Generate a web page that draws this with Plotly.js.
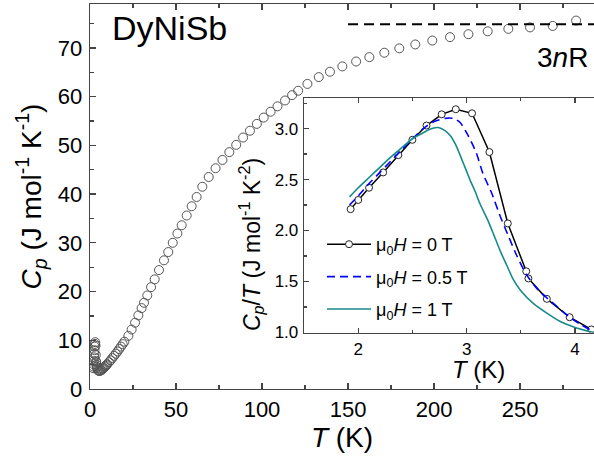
<!DOCTYPE html>
<html>
<head>
<meta charset="utf-8">
<script src="https://cdn.plot.ly/plotly-3.0.1.min.js"></script>
<style>html,body{margin:0;padding:0;background:#fff;}#chart{width:594px;height:459px;}</style>
</head>
<body>
<div id="chart"></div>
<script>
// ---- Inset data: Cp/T vs T (low temperature) ----
var insetT0 = [1.93, 2.00, 2.10, 2.23, 2.37, 2.50, 2.63, 2.77, 2.90, 3.05, 3.21, 3.38, 3.55, 3.57, 3.74, 3.95, 4.15];
var insetCpT0 = [2.21, 2.30, 2.42, 2.57, 2.74, 2.89, 3.03, 3.14, 3.19, 3.15, 2.77, 2.07, 1.60, 1.53, 1.33, 1.15, 1.03];

var insetT05 = [1.92, 2.00, 2.10, 2.20, 2.30, 2.40, 2.50, 2.60, 2.70, 2.80, 2.88, 2.94, 3.01, 3.09, 3.15, 3.23, 3.31, 3.38, 3.46, 3.55, 3.65, 3.74, 3.85, 3.95, 4.05, 4.15];
var insetCpT05 = [2.25, 2.34, 2.46, 2.57, 2.68, 2.79, 2.90, 3.00, 3.07, 3.10, 3.10, 3.06, 2.94, 2.76, 2.56, 2.37, 2.14, 1.96, 1.76, 1.57, 1.43, 1.34, 1.24, 1.15, 1.08, 1.02];

var insetT1 = [1.92, 2.00, 2.10, 2.20, 2.30, 2.40, 2.50, 2.60, 2.68, 2.74, 2.80, 2.85, 2.90, 2.94, 3.00, 3.03, 3.08, 3.12, 3.20, 3.25, 3.31, 3.37, 3.43, 3.50, 3.62, 3.74, 3.86, 4.00, 4.17];
var insetCpT1 = [2.33, 2.42, 2.52, 2.62, 2.72, 2.81, 2.90, 2.96, 3.00, 3.01, 2.98, 2.93, 2.84, 2.74, 2.58, 2.50, 2.38, 2.27, 2.09, 1.96, 1.80, 1.66, 1.52, 1.41, 1.28, 1.19, 1.11, 1.05, 1.00];

// ---- Main data: Cp vs T above the inset range ----
var mainT = [4.5, 5, 5.5, 6, 6.5, 7, 7.5, 8, 8.5, 9, 9.5, 10, 11, 12, 13, 14, 15, 16, 17, 18, 19, 20,
  22.3, 24.2, 26.2, 28.1, 30, 31.4, 33.3, 35.5, 37.6, 40.1, 43, 45.5, 48.1, 50.8, 53.3, 56.2, 59.1, 62, 65.3,
  69, 73, 77, 81, 85, 89, 93, 97, 101, 105, 109, 113.4, 117.5, 121, 126.4, 133, 139.5, 146.7, 154.7, 162.4,
  171.1, 179.8, 189.1, 199, 209.3, 220, 231.2, 243.2, 255.8, 269, 282.6];
var mainCp = [3.9, 3.75, 3.7, 3.75, 3.85, 4.0, 4.15, 4.3, 4.5, 4.7, 4.9, 5.1, 5.5, 5.9, 6.35, 6.8, 7.25, 7.7, 8.2, 8.7, 9.2, 9.7,
  10.9, 12.2, 13.6, 15.1, 16.6, 17.7, 19.2, 20.9, 22.5, 24.4, 26.4, 28.1, 30.0, 31.9, 33.6, 35.6, 37.5, 39.4, 41.5,
  43.5, 45.3, 47.0, 48.6, 50.1, 51.6, 53.0, 54.4, 55.7, 56.9, 58.0, 59.2, 60.3, 61.2, 62.6, 64.0, 65.1, 66.2, 67.2, 68.1,
  69.0, 69.9, 70.7, 71.5, 72.2, 72.8, 73.4, 73.9, 74.2, 74.5, 75.6];

// Dulong-Petit limit 3nR (n = 3 atoms)
var limitT = [150, 293];
var limit3nR = [3 * 3 * 8.314, 3 * 3 * 8.314];

var legendNames = ['\u03bc<sub>0</sub><i>H</i> = 0 T', '\u03bc<sub>0</sub><i>H</i> = 0.5 T', '\u03bc<sub>0</sub><i>H</i> = 1 T'];

// full main series: low-T part derived from inset 0 T data (Cp = T * Cp/T)
var allT = insetT0.concat(mainT);
var allCp = insetT0.map(function (t, i) { return t * insetCpT0[i]; }).concat(mainCp);

var FONT = 'Liberation Sans, Arial, Helvetica, sans-serif';
var AX = '#444';

var traces = [
  {x: allT, y: allCp, type: 'scatter', mode: 'markers', xaxis: 'x', yaxis: 'y', showlegend: false,
   marker: {symbol: 'circle-open', size: 9, color: '#555', line: {width: 1, color: '#555'}}},
  {x: limitT, y: limit3nR, type: 'scatter', mode: 'lines', xaxis: 'x', yaxis: 'y', showlegend: false,
   line: {color: '#000', width: 2, dash: '10px,6px'}},
  {x: insetT0, y: insetCpT0, type: 'scatter', mode: 'lines+markers', xaxis: 'x2', yaxis: 'y2', name: legendNames[0], legendgroup: 'a',
   line: {color: '#000', width: 1.5}, marker: {symbol: 'circle', size: 7, color: '#fff', line: {color: '#222', width: 1}}},
  {x: insetT05, y: insetCpT05, type: 'scatter', mode: 'lines', xaxis: 'x2', yaxis: 'y2', name: legendNames[1], legendgroup: 'b',
   line: {color: '#0000ff', width: 1.6, dash: '8px,5px', shape: 'spline', smoothing: 0.6}},
  {x: insetT1, y: insetCpT1, type: 'scatter', mode: 'lines', xaxis: 'x2', yaxis: 'y2', name: legendNames[2], legendgroup: 'c',
   line: {color: '#178a8a', width: 1.6, shape: 'spline', smoothing: 0.6}}
];

var px = function (p) { return (p - 90) / 504; };
var py = function (p) { return (389 - p) / 385; };

var layout = {
  width: 594, height: 459,
  margin: {l: 90, r: 0, t: 4, b: 70, pad: 0},
  paper_bgcolor: '#fff', plot_bgcolor: 'rgba(0,0,0,0)',
  font: {family: FONT, color: '#000'},
  showlegend: true,
  legend: {x: px(322), y: py(226), xanchor: 'left', yanchor: 'top', bgcolor: 'rgba(0,0,0,0)',
           font: {size: 18, family: FONT}, traceorder: 'grouped', tracegroupgap: 6, itemwidth: 44},
  xaxis: {domain: [0, 1], range: [0, 293], showgrid: false, zeroline: false,
          showline: true, linecolor: AX, linewidth: 1.3, mirror: 'ticks',
          ticks: 'inside', ticklen: 6, tickwidth: 1.3, tickcolor: AX, dtick: 50, tick0: 0,
          minor: {ticks: 'inside', ticklen: 4, dtick: 25, tickcolor: AX, tickwidth: 1.3},
          tickfont: {size: 22, family: FONT}, ticklabelstandoff: 0,
          title: {text: '<i>T</i> (K)', font: {size: 28, family: FONT}, standoff: 2}},
  yaxis: {domain: [0, 1], range: [0, 79], showgrid: false, zeroline: false,
          showline: true, linecolor: AX, linewidth: 1.3, mirror: false,
          ticks: 'inside', ticklen: 6, tickwidth: 1.3, tickcolor: AX, dtick: 10, tick0: 0,
          minor: {ticks: 'inside', ticklen: 4, dtick: 5, tickcolor: AX, tickwidth: 1.3},
          tickfont: {size: 22, family: FONT}, ticklabelstandoff: 2,
          title: {text: '<i>C<sub>p</sub></i> (J mol<sup>-1</sup> K<sup>-1</sup>)', font: {size: 28, family: FONT}, standoff: 8}},
  xaxis2: {domain: [px(304), 1], anchor: 'y2', range: [1.5, 4.175], showgrid: false, zeroline: false,
           showline: true, linecolor: AX, linewidth: 1.3, mirror: 'ticks',
           ticks: 'inside', ticklen: 5, tickwidth: 1.2, tickcolor: AX, dtick: 1, tick0: 0,
           minor: {ticks: 'inside', ticklen: 3, dtick: 0.5, tickcolor: AX, tickwidth: 1.2},
           tickfont: {size: 17, family: FONT}, ticklabelstandoff: 1},
  yaxis2: {domain: [py(332.5), py(98)], anchor: 'x2', range: [1.0, 3.30], showgrid: false, zeroline: false,
           showline: true, linecolor: AX, linewidth: 1.3, mirror: false,
           ticks: 'inside', ticklen: 5, tickwidth: 1.2, tickcolor: AX, dtick: 0.5, tick0: 0, tickformat: '.1f',
           minor: {ticks: 'inside', ticklen: 3, dtick: 0.25, tickcolor: AX, tickwidth: 1.2},
           tickfont: {size: 17, family: FONT}, ticklabelstandoff: 1},
  annotations: [
    {xref: 'paper', yref: 'paper', x: px(169), y: py(28), text: 'DyNiSb', showarrow: false,
     font: {size: 34, family: FONT}, xanchor: 'center', yanchor: 'middle'},
    {xref: 'paper', yref: 'paper', x: px(562), y: py(57), text: '3<i>n</i>R', showarrow: false,
     font: {size: 28, family: FONT}, xanchor: 'center', yanchor: 'middle'},
    {xref: 'paper', yref: 'paper', x: px(478), y: py(369), text: '<i>T</i> (K)', showarrow: false,
     font: {size: 24, family: FONT}, xanchor: 'center', yanchor: 'middle'},
    {xref: 'paper', yref: 'paper', x: px(251), y: py(245), text: '<i>C<sub>p</sub></i>/<i>T</i> (J mol<sup>-1</sup> K<sup>-2</sup>)',
     showarrow: false, textangle: -90, font: {size: 23, family: FONT}, xanchor: 'center', yanchor: 'middle'}
  ]
};

Plotly.newPlot('chart', traces, layout, {displayModeBar: false, staticPlot: true});
</script>
</body>
</html>
